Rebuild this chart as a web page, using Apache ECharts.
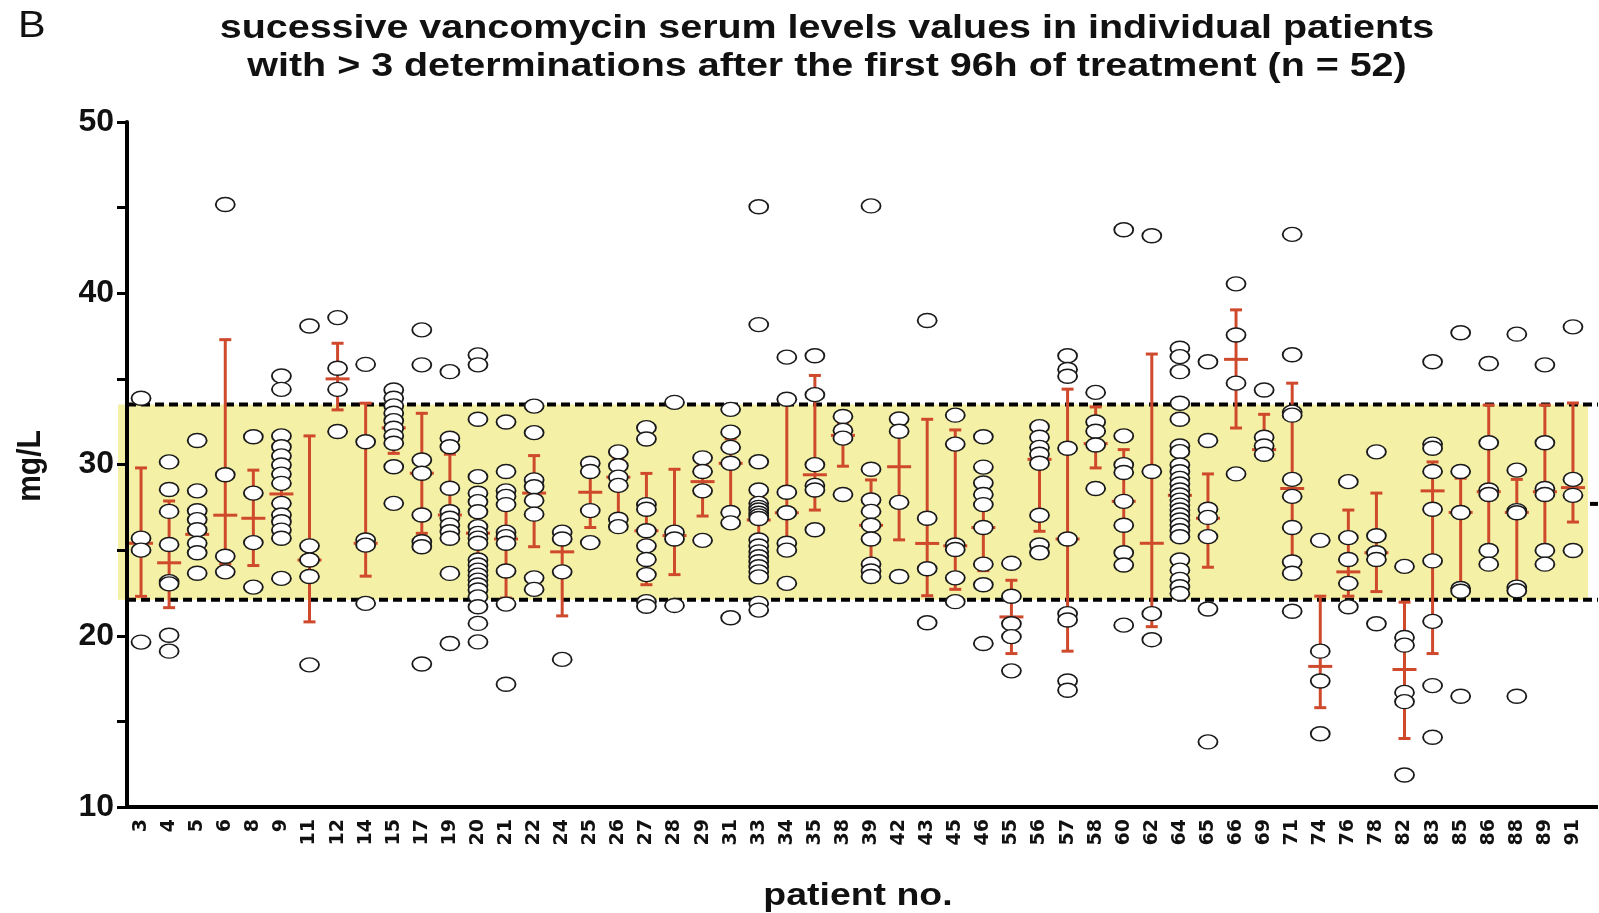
<!DOCTYPE html>
<html>
<head>
<meta charset="utf-8">
<script src="https://cdn.jsdelivr.net/npm/echarts@6/dist/echarts.min.js"></script>
<style>
html,body{margin:0;padding:0;background:#fff;}
#chart{width:1599px;height:913px;}
</style>
</head>
<body>
<div id="chart"></div>
<script>
// ---- data ----
const patients = ['3','4','5','6','8','9','11','12','14','15','17','19','20','21','22','24','25','26','27','28','29','31','33','34','35','38','39','42','43','45','46','55','56','57','58','60','62','64','65','66','69','71','74','76','78','82','83','85','86','88','89','91'];

const readings = [
  [33.87, 25.7, 25.0, 19.63],
  [30.15, 28.54, 27.26, 25.33, 23.16, 23.03, 20.03, 19.1],
  [31.4, 28.46, 27.3, 26.78, 26.19, 25.4, 24.85, 23.65],
  [45.18, 29.4, 24.64, 23.73],
  [31.62, 28.33, 25.44, 22.84],
  [35.17, 34.39, 31.67, 31.04, 30.5, 29.97, 29.44, 28.9, 27.73, 27.05, 26.66, 26.17, 25.69, 23.35],
  [38.09, 25.25, 24.42, 23.46, 18.3],
  [38.58, 35.62, 34.39, 31.93],
  [35.85, 31.33, 25.59, 25.29, 21.89],
  [34.35, 33.87, 33.42, 32.99, 32.56, 32.12, 31.67, 31.24, 29.87, 27.73],
  [37.86, 35.82, 30.26, 29.49, 27.05, 25.49, 25.2, 18.35],
  [35.42, 31.53, 31.04, 28.61, 27.24, 26.86, 26.46, 26.07, 25.69, 23.64, 19.55],
  [36.4, 35.82, 32.64, 29.29, 28.32, 27.83, 27.24, 26.37, 25.98, 25.7, 25.4, 24.42, 24.13, 23.83, 23.54, 23.25, 22.96, 22.67, 22.27, 21.69, 20.72, 19.64],
  [32.48, 29.59, 28.46, 28.14, 27.66, 26.05, 25.79, 25.4, 23.78, 21.85, 17.17],
  [33.41, 31.86, 29.1, 28.7, 27.9, 27.1, 23.38, 22.71],
  [26.05, 25.65, 23.73, 18.62],
  [30.07, 29.59, 27.31, 25.44],
  [30.74, 29.93, 29.26, 28.78, 26.8, 26.37],
  [32.15, 31.49, 27.66, 27.39, 26.13, 25.25, 24.45, 23.57, 21.99, 21.72],
  [33.63, 26.05, 25.65, 21.77],
  [30.39, 29.59, 28.46, 25.57],
  [33.22, 31.89, 31.0, 30.07, 27.2, 26.59, 21.05],
  [45.05, 38.17, 30.16, 28.51, 27.73, 27.5, 27.34, 27.15, 27.0, 26.85, 25.59, 25.24, 24.9, 24.61, 24.32, 24.03, 23.73, 23.44, 21.89, 21.5],
  [36.27, 33.81, 28.38, 27.18, 25.4, 25.0, 23.06],
  [36.35, 34.08, 29.99, 28.78, 28.51, 26.19],
  [32.8, 31.99, 31.54, 28.25],
  [45.1, 29.72, 27.93, 27.26, 26.45, 25.65, 24.18, 23.78, 23.46],
  [32.66, 31.94, 27.79, 23.46],
  [38.41, 26.86, 23.91, 20.76],
  [32.88, 31.19, 25.3, 25.04, 23.38, 21.99],
  [31.62, 29.85, 28.92, 28.25, 27.66, 26.32, 24.18, 22.98, 19.55],
  [24.23, 22.31, 20.7, 19.95, 17.95],
  [32.21, 31.59, 31.0, 30.6, 30.07, 27.04, 25.3, 24.85],
  [36.35, 35.55, 35.15, 30.95, 25.65, 21.29, 20.92, 17.36, 16.82],
  [34.21, 32.48, 31.94, 31.14, 28.6],
  [43.71, 31.67, 29.99, 29.53, 27.85, 26.45, 24.85, 24.13, 20.62],
  [43.36, 29.59, 21.29, 19.77],
  [36.79, 36.3, 35.42, 33.58, 32.64, 31.08, 30.75, 29.97, 29.58, 29.19, 28.86, 28.51, 28.22, 27.92, 27.63, 27.34, 27.05, 26.76, 26.46, 26.13, 25.78, 24.42, 23.83, 23.29, 22.86, 22.47],
  [36.0, 31.4, 27.39, 26.91, 25.79, 21.56, 13.8],
  [40.55, 37.56, 34.75, 29.45],
  [34.35, 31.59, 31.08, 30.6],
  [43.44, 36.41, 33.06, 32.88, 29.13, 28.14, 26.32, 24.31, 23.65, 21.43],
  [25.57, 19.1, 17.36, 14.28],
  [29.0, 25.73, 24.45, 23.06, 21.69],
  [30.74, 25.84, 24.85, 24.45, 20.7],
  [24.05, 19.9, 19.45, 16.69, 16.15, 11.87],
  [36.0, 31.19, 30.95, 29.59, 27.39, 24.37, 20.84, 17.09, 14.07],
  [37.69, 29.59, 27.2, 22.76, 22.6, 16.47],
  [35.9, 31.27, 28.51, 28.25, 24.98, 24.18],
  [37.61, 29.67, 27.31, 27.18, 22.84, 22.63, 16.47],
  [35.82, 31.27, 28.6, 28.25, 24.98, 24.18],
  [38.04, 29.13, 28.2, 24.98]
];

const q1 = [22.3, 21.64, 25.0, 24.19, 24.1, 26.0, 20.81, 33.19, 23.48, 30.65, 25.98, 25.9, 23.0, 22.2, 25.2, 21.16, 26.32, 26.9, 22.98, 23.57, 26.99, 26.8, 24.2, 25.0, 27.34, 29.9, 24.1, 25.6, 22.34, 22.71, 23.8, 18.96, 26.1, 19.1, 29.8, 24.45, 20.53, 26.0, 24.0, 32.13, 30.7, 24.2, 15.8, 22.31, 22.58, 14.0, 18.96, 22.8, 24.23, 22.84, 24.23, 26.64];
const median = [25.4, 24.26, 25.92, 27.04, 26.86, 28.28, 24.42, 35.0, 25.4, 32.14, 29.49, 27.05, 25.99, 25.65, 28.33, 24.9, 28.38, 29.26, 26.13, 25.85, 29.0, 30.07, 26.76, 27.18, 29.4, 31.7, 26.45, 29.87, 25.39, 25.25, 26.32, 21.1, 30.3, 25.65, 31.22, 27.85, 25.4, 28.2, 26.86, 36.14, 30.87, 28.6, 18.21, 23.73, 24.85, 18.03, 28.46, 27.2, 28.41, 27.2, 28.41, 28.65];
const q3 = [29.8, 27.87, 27.0, 37.29, 29.67, 31.08, 31.67, 37.08, 33.58, 33.5, 32.99, 30.6, 28.0, 28.0, 30.52, 25.85, 29.83, 30.3, 29.48, 29.72, 30.0, 31.5, 28.2, 33.6, 35.2, 32.4, 29.1, 32.3, 32.64, 32.02, 28.6, 23.24, 31.3, 34.4, 33.36, 30.87, 36.45, 30.56, 29.45, 39.03, 32.93, 34.75, 22.31, 27.34, 28.33, 21.96, 30.15, 29.2, 33.47, 29.13, 33.47, 33.59];

const targetLow = 22.1;
const targetHigh = 33.5;
const overallMedian = 27.7;

// ---- build series data ----
const pointData = [];
readings.forEach((arr, i) => arr.forEach(v => pointData.push([i, v])));
const barData = patients.map((p, i) => [i, q1[i], median[i], q3[i]]);

const RED = '#cf4a2d';
const chart = echarts.init(document.getElementById('chart'), null, {renderer: 'canvas'});

const option = {
  animation: false,
  backgroundColor: '#fff',
  grid: {left: 127, right: 12, top: 122, bottom: 106},
  xAxis: {
    type: 'category',
    data: patients,
    boundaryGap: true,
    z: 10,
    axisLine: {lineStyle: {color: '#000', width: 4}},
    axisTick: {alignWithLabel: true, length: 9, lineStyle: {color: '#000', width: 3}},
    axisLabel: {interval: 0, rotate: 90, margin: 12, fontFamily: 'DejaVu Sans', fontWeight: 'bold', fontSize: 19, color: '#111'},
    splitLine: {show: false}
  },
  yAxis: {
    type: 'value',
    min: 10, max: 50, interval: 5,
    z: 10,
    axisLine: {show: true, lineStyle: {color: '#000', width: 4}},
    axisTick: {show: true, length: 10, lineStyle: {color: '#000', width: 3}},
    axisLabel: {
      formatter: v => (v % 10 === 0 ? String(v) : ''),
      fontFamily: 'Liberation Sans', fontWeight: 'bold', fontSize: 32, color: '#111', margin: 13
    },
    splitLine: {show: false}
  },
  graphic: [
    {type: 'text', x: 18, y: 27, scaleX: 1.12, style: {text: 'B', font: 'normal 37px "Liberation Sans"', fill: '#111', textVerticalAlign: 'middle'}},
    {type: 'text', x: 827, y: 29, scaleX: 1.16, style: {text: 'sucessive vancomycin serum levels values in individual patients', font: 'bold 34px "Liberation Sans"', fill: '#111', textAlign: 'center', textVerticalAlign: 'middle'}},
    {type: 'text', x: 827, y: 67, scaleX: 1.16, style: {text: 'with > 3 determinations after the first 96h of treatment (n = 52)', font: 'bold 34px "Liberation Sans"', fill: '#111', textAlign: 'center', textVerticalAlign: 'middle'}},
    {type: 'text', x: 31, y: 466, rotation: Math.PI / 2, scaleY: 1.1, style: {text: 'mg/L', font: 'bold 30px "Liberation Sans"', fill: '#111', textAlign: 'center', textVerticalAlign: 'middle'}},
    {type: 'text', x: 858, y: 896, scaleX: 1.17, style: {text: 'patient no.', font: 'bold 32px "Liberation Sans"', fill: '#111', textAlign: 'center', textVerticalAlign: 'middle'}}
  ],
  series: [
    {
      type: 'custom',
      z: 1,
      silent: true,
      data: [[0, targetLow, targetHigh, overallMedian]],
      encode: {x: 0, y: [1, 2]},
      renderItem: function (params, api) {
        const cs = params.coordSys;
        const yLo = api.coord([0, api.value(1)])[1];
        const yHi = api.coord([0, api.value(2)])[1];
        const yMid = api.coord([0, api.value(3)])[1];
        const x0 = cs.x - 9, x1 = cs.x + cs.width + 1;
        const xEnd = cs.x + cs.width + 11;
        const yAxisLine = cs.y + cs.height;
        return {
          type: 'group',
          children: [
            {type: 'rect', shape: {x: x0, y: yHi, width: x1 - x0, height: yLo - yHi}, style: {fill: '#f4f0a6'}},
            {type: 'line', shape: {x1: cs.x, y1: yHi, x2: xEnd, y2: yHi}, style: {stroke: '#000', lineWidth: 4, lineDash: [9, 5]}},
            {type: 'line', shape: {x1: cs.x, y1: yLo, x2: xEnd, y2: yLo}, style: {stroke: '#000', lineWidth: 4, lineDash: [9, 5]}},
            {type: 'line', shape: {x1: x1 + 2, y1: yMid, x2: xEnd, y2: yMid}, style: {stroke: '#000', lineWidth: 4}},
            {type: 'line', shape: {x1: cs.x + cs.width - 2, y1: yAxisLine, x2: xEnd, y2: yAxisLine}, style: {stroke: '#000', lineWidth: 4}}
          ]
        };
      }
    },
    {
      type: 'custom',
      z: 2,
      silent: true,
      data: barData,
      encode: {x: 0, y: [1, 2, 3]},
      renderItem: function (params, api) {
        const i = api.value(0);
        const pLo = api.coord([i, api.value(1)]);
        const pMed = api.coord([i, api.value(2)]);
        const pHi = api.coord([i, api.value(3)]);
        const x = pMed[0];
        const cap = 6, med = 12;
        const st = {stroke: RED, lineWidth: 3};
        return {
          type: 'group',
          children: [
            {type: 'line', shape: {x1: x, y1: pLo[1], x2: x, y2: pHi[1]}, style: st},
            {type: 'line', shape: {x1: x - cap, y1: pLo[1], x2: x + cap, y2: pLo[1]}, style: st},
            {type: 'line', shape: {x1: x - cap, y1: pHi[1], x2: x + cap, y2: pHi[1]}, style: st},
            {type: 'line', shape: {x1: x - med, y1: pMed[1], x2: x + med, y2: pMed[1]}, style: st}
          ]
        };
      }
    },
    {
      type: 'scatter',
      z: 3,
      silent: true,
      symbol: 'circle',
      symbolSize: [19, 14],
      itemStyle: {color: '#fff', borderColor: '#1a1a1a', borderWidth: 1.6, opacity: 1},
      data: pointData
    }
  ]
};
chart.setOption(option);
</script>
</body>
</html>
